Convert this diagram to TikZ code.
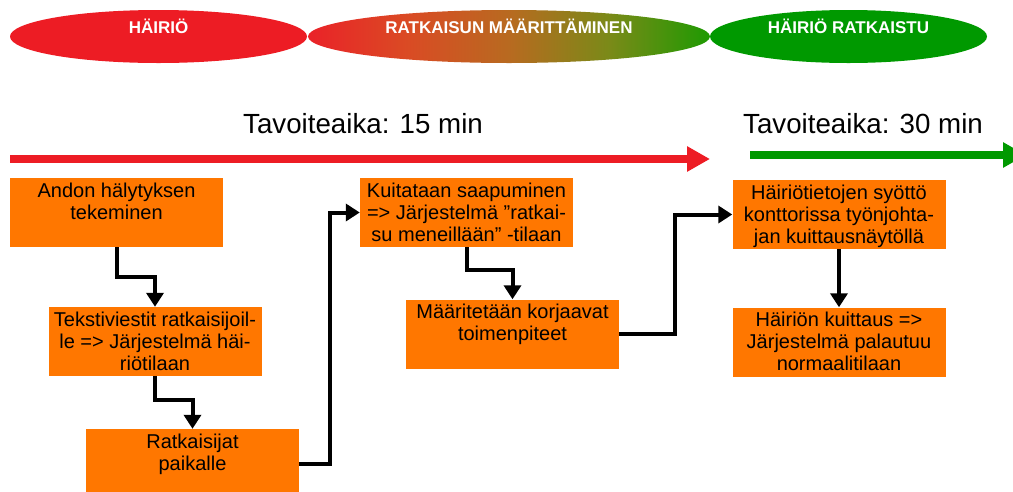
\documentclass[tikz,border=0pt]{standalone}
\usepackage{fontspec}
\setmainfont{Liberation Sans}
\usetikzlibrary{shapes.geometric,arrows.meta}
\definecolor{hred}{HTML}{ED1C24}
\definecolor{hgreen}{HTML}{009900}
\definecolor{horange}{HTML}{FF7700}
\definecolor{ga}{HTML}{EA2228}
\definecolor{gb}{HTML}{DA4B24}
\definecolor{gc}{HTML}{B86A20}
\definecolor{gd}{HTML}{7A8A18}
\definecolor{ge}{HTML}{1E9A02}
\pgfdeclarehorizontalshading{phasegrad}{100bp}{color(0bp)=(ga); color(25bp)=(ga); color(37.5bp)=(gb); color(50bp)=(gc); color(62.5bp)=(gd); color(75bp)=(ge); color(100bp)=(ge)}
\newcommand\boxtext[1]{\parbox[c][69pt][t]{213pt}{\centering\fontsize{20}{22}\selectfont\rule{0pt}{19pt}#1}}
\begin{document}
\begin{tikzpicture}[x=1pt,y=-1pt,
  phase/.style={ellipse, inner sep=0pt, minimum height=53pt, text=white,
    font=\bfseries\fontsize{17}{17}\selectfont, text height=12pt, text depth=17.6pt},
  stepbox/.style={rectangle, fill=horange, inner sep=0pt},
  conn/.style={line width=4pt, -{Triangle[length=14pt,width=17pt]}},
  bar/.style={line width=8pt},
  goal/.style={inner sep=0pt, font=\fontsize{27.7}{30}\selectfont}]
\useasboundingbox (0,0) rectangle (1013,491);
% phase ellipses
\node[phase, fill=hred, minimum width=297pt] (p1) at (158.5,36.5) {HÄIRIÖ};
\node[phase, shading=phasegrad, minimum width=402pt] (p2) at (509,36.5) {RATKAISUN MÄÄRITTÄMINEN};
\node[phase, fill=hgreen, minimum width=277pt] (p3) at (848.5,36.5) {HÄIRIÖ RATKAISTU};
% goals
\node[goal, anchor=base west] (g1) at (243,133) {Tavoiteaika: 15 min};
\node[goal, anchor=base west] (g2) at (743,133) {Tavoiteaika: 30 min};
\coordinate (r0) at (10,159);
\coordinate (r1) at (710,159);
\coordinate (s0) at (750,155);
\coordinate (s1) at (1026,155);
\draw[bar, hred, -{Triangle[length=23pt,width=24pt]}] (r0) -- (r1);
\draw[bar, hgreen, -{Triangle[length=23pt,width=24pt]}] (s0) -- (s1);
% step boxes
\node[stepbox] (b1) at (116.5,212.5) {\boxtext{Andon hälytyksen\\tekeminen}};
\node[stepbox] (b2) at (155,341.5) {\boxtext{Tekstiviestit ratkaisijoil-\\le => Järjestelmä häi-\\riötilaan}};
\node[stepbox] (b3) at (192.5,463.5) {\boxtext{Ratkaisijat\\paikalle}};
\node[stepbox] (b4) at (466.5,212.5) {\boxtext{Kuitataan saapuminen\\=> Järjestelmä ”ratkai-\\su meneillään” -tilaan}};
\node[stepbox] (b5) at (512.5,334) {\boxtext{Määritetään korjaavat\\toimenpiteet}};
\node[stepbox] (b6) at (839,214.5) {\boxtext{Häiriötietojen syöttö\\konttorissa työnjohta-\\jan kuittausnäytöllä}};
\node[stepbox] (b7) at (839,342) {\boxtext{Häiriön kuittaus =>\\Järjestelmä palautuu\\normaalitilaan}};
% connectors
\coordinate (k1) at (0,277);
\coordinate (k2) at (0,400);
\coordinate (k3) at (330,0);
\coordinate (k4) at (0,270);
\coordinate (k5) at (675,0);
\draw[conn] (b1.south) -- (b1.south |- k1) -| (b2.north);
\draw[conn] (b2.south) -- (b2.south |- k2) -| (b3.north);
\draw[conn] (b3.east) -| (k3 |- b4.west) -- (b4.west);
\draw[conn] (b4.south) -- (b4.south |- k4) -| (b5.north);
\draw[conn] (b5.east) -| (k5 |- b6.west) -- (b6.west);
\draw[conn] (b6.south) -- (b7.north);
\end{tikzpicture}
\end{document}
